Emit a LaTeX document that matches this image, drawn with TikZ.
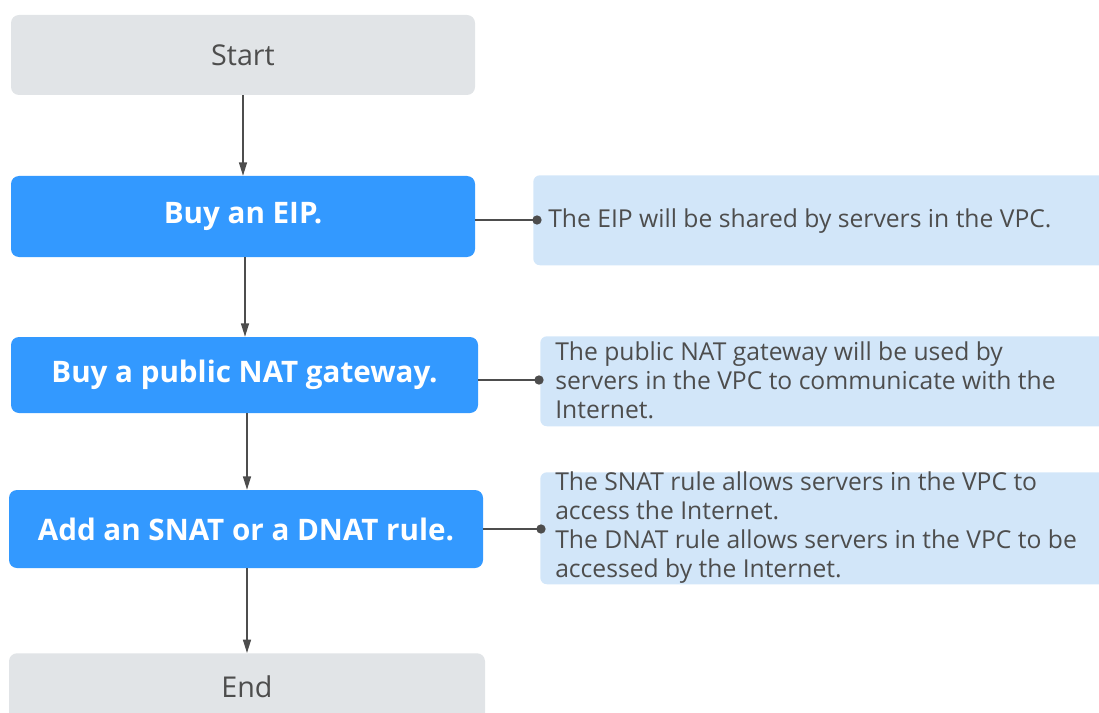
\documentclass[tikz,border=0pt]{standalone}
\usepackage{fontspec}
\setmainfont{Open Sans}
\usetikzlibrary{arrows.meta}
\definecolor{graybox}{HTML}{E1E4E7}
\definecolor{bluebox}{HTML}{3399FF}
\definecolor{notebox}{HTML}{D2E6F9}
\definecolor{ink}{HTML}{4D4D4D}
\tikzset{
  endbox/.style={fill=graybox, rounded corners=6, text=ink, font=\fontsize{21.5}{25}\selectfont, inner sep=0pt},
  stepbox/.style={fill=bluebox, rounded corners=6, text=white, font=\bfseries\fontsize{22.2}{26}\selectfont, inner sep=0pt},
  notebg/.style={fill=notebox, rounded corners=5, inner sep=0pt, anchor=north west},
  notetext/.style={text=ink, font=\fontsize{18.5}{21.75}\selectfont, align=left, anchor=west, inner sep=0pt},
  flow/.style={draw=ink, line width=1pt, -{Triangle[length=10pt,width=6pt]}},
  link/.style={draw=ink, line width=1pt},
  dot/.style={fill=ink, circle, inner sep=0pt, minimum size=7pt}
}
\begin{document}
\begin{tikzpicture}[x=0.75pt,y=-0.75pt]
\useasboundingbox (0,0) rectangle (1099,713);
% main boxes
\node[endbox, minimum width=464*0.75pt, minimum height=80*0.75pt] (start) at (243,55) {Start};
\node[stepbox, minimum width=464*0.75pt, minimum height=81*0.75pt] (eip) at (243,216.5) {Buy an EIP.};
\node[stepbox, minimum width=467*0.75pt, minimum height=76*0.75pt] (nat) at (244.5,375) {Buy a public NAT gateway.};
\node[stepbox, minimum width=474*0.75pt, minimum height=78*0.75pt] (rule) at (246,529) {Add an SNAT or a DNAT rule.};
\node[endbox, minimum width=476*0.75pt, minimum height=72*0.75pt, anchor=north] (end) at (247,653) {};
\node[text=ink, font=\fontsize{21.5}{25}\selectfont, inner sep=0pt] (endtxt) at (247,687) {End};
% notes
\node[notebg, minimum width=580*0.75pt, minimum height=90*0.75pt] (n1) at (533,175) {};
\node[notetext] (t1) at (548,221) {The EIP will be shared by servers in the VPC.};
\node[notebg, minimum width=575*0.75pt, minimum height=90*0.75pt] (n2) at (540,336) {};
\node[notetext] (t2) at (555,380) {The public NAT gateway will be used by\\servers in the VPC to communicate with the\\Internet.};
\node[notebg, minimum width=575*0.75pt, minimum height=112*0.75pt] (n3) at (540,472) {};
\node[notetext] (t3) at (555,528) {The SNAT rule allows servers in the VPC to\\access the Internet.\\The DNAT rule allows servers in the VPC to be\\accessed by the Internet.};
% flow arrows
\draw[flow] (start.south) -- (eip.north);
\draw[flow] (eip.south -| 245,0) -- (nat.north -| 245,0);
\draw[flow] (nat.south -| 247,0) -- (rule.north -| 247,0);
\draw[flow] (rule.south -| 247,0) -- (end.north);
% links to notes
\coordinate (d1) at (537,220);
\coordinate (d2) at (539,380);
\coordinate (d3) at (541,529);
\draw[link] (eip.east |- d1) -- (d1);
\draw[link] (nat.east |- d2) -- (d2);
\draw[link] (rule.east |- d3) -- (d3);
\node[dot] (p1) at (d1) {};
\node[dot] (p2) at (d2) {};
\node[dot] (p3) at (d3) {};
\end{tikzpicture}
\end{document}
